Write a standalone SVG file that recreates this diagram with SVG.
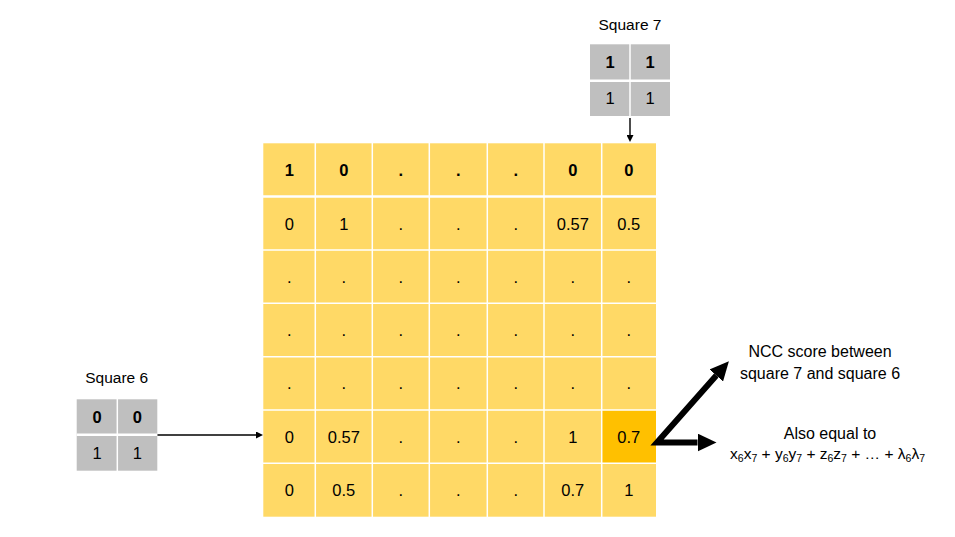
<svg xmlns="http://www.w3.org/2000/svg" width="955" height="537" viewBox="0 0 955 537">
  <style>
    text { font-family: "Liberation Sans", Arial, sans-serif; fill: #000; }
    .c { font-size: 16.5px; text-anchor: middle; }
    .b { font-weight: bold; }
    .lbl { font-size: 15.5px; text-anchor: middle; }
    .note { font-size: 16px; text-anchor: middle; }
    .f { font-size: 15.5px; text-anchor: middle; }
    .sub { font-size: 10.5px; }
    .wl { stroke: #FFFFFF; stroke-width: 1.5; }
    .wh { stroke: #FFFFFF; stroke-width: 2.6; }
    .thin { stroke: #000; stroke-width: 1.4; fill: none; }
    .thick { stroke: #000; stroke-width: 6; fill: none; stroke-linejoin: miter; }
  </style>
  <defs>
    <marker id="ah-thin" markerUnits="userSpaceOnUse" markerWidth="7" markerHeight="7" viewBox="0 0 7 7" refX="0" refY="3.5" orient="auto">
      <path d="M0,0 L7,3.5 L0,7 z" fill="#000"/>
    </marker>
    <marker id="ah-thick" markerUnits="userSpaceOnUse" markerWidth="19" markerHeight="18" viewBox="0 0 19 18" refX="0" refY="9" orient="auto-start-reverse">
      <path d="M0,0 L19,9 L0,18 z" fill="#000"/>
    </marker>
  </defs>
  <rect width="955" height="537" fill="#FFFFFF"/>

  <g id="matrix">
    <rect x="263.3" y="143.3" width="392.7" height="373.4" fill="#FFD966"/>
    <rect x="601.7" y="410" width="54.3" height="53.3" fill="#FFC000"/>
    <line class="wl" x1="315.3" y1="143" x2="315.3" y2="517"/>
    <line class="wl" x1="372.3" y1="143" x2="372.3" y2="517"/>
    <line class="wl" x1="429.3" y1="143" x2="429.3" y2="517"/>
    <line class="wl" x1="487.3" y1="143" x2="487.3" y2="517"/>
    <line class="wl" x1="544" y1="143" x2="544" y2="517"/>
    <line class="wl" x1="601.7" y1="143" x2="601.7" y2="517"/>
    <line class="wh" x1="263" y1="196.5" x2="656" y2="196.5"/>
    <line class="wl" x1="263" y1="250" x2="656" y2="250"/>
    <line class="wl" x1="263" y1="303.3" x2="656" y2="303.3"/>
    <line class="wl" x1="263" y1="356.7" x2="656" y2="356.7"/>
    <line class="wl" x1="263" y1="410" x2="656" y2="410"/>
    <line class="wl" x1="263" y1="463.3" x2="656" y2="463.3"/>

    <g class="c b">
      <text x="289.3" y="175.5">1</text>
      <text x="343.8" y="175.5">0</text>
      <text x="400.8" y="175.5">.</text>
      <text x="458.3" y="175.5">.</text>
      <text x="515.7" y="175.5">.</text>
      <text x="572.8" y="175.5">0</text>
      <text x="628.8" y="175.5">0</text>
    </g>
    <g class="c">
      <text x="289.3" y="229.5">0</text>
      <text x="343.8" y="229.5">1</text>
      <text x="400.8" y="229.5">.</text>
      <text x="458.3" y="229.5">.</text>
      <text x="515.7" y="229.5">.</text>
      <text x="572.8" y="229.5">0.57</text>
      <text x="628.8" y="229.5">0.5</text>

      <text x="289.3" y="282.7">.</text>
      <text x="343.8" y="282.7">.</text>
      <text x="400.8" y="282.7">.</text>
      <text x="458.3" y="282.7">.</text>
      <text x="515.7" y="282.7">.</text>
      <text x="572.8" y="282.7">.</text>
      <text x="628.8" y="282.7">.</text>

      <text x="289.3" y="336">.</text>
      <text x="343.8" y="336">.</text>
      <text x="400.8" y="336">.</text>
      <text x="458.3" y="336">.</text>
      <text x="515.7" y="336">.</text>
      <text x="572.8" y="336">.</text>
      <text x="628.8" y="336">.</text>

      <text x="289.3" y="389.3">.</text>
      <text x="343.8" y="389.3">.</text>
      <text x="400.8" y="389.3">.</text>
      <text x="458.3" y="389.3">.</text>
      <text x="515.7" y="389.3">.</text>
      <text x="572.8" y="389.3">.</text>
      <text x="628.8" y="389.3">.</text>

      <text x="289.3" y="442.7">0</text>
      <text x="343.8" y="442.7">0.57</text>
      <text x="400.8" y="442.7">.</text>
      <text x="458.3" y="442.7">.</text>
      <text x="515.7" y="442.7">.</text>
      <text x="572.8" y="442.7">1</text>
      <text x="628.8" y="442.7">0.7</text>

      <text x="289.3" y="496">0</text>
      <text x="343.8" y="496">0.5</text>
      <text x="400.8" y="496">.</text>
      <text x="458.3" y="496">.</text>
      <text x="515.7" y="496">.</text>
      <text x="572.8" y="496">0.7</text>
      <text x="628.8" y="496">1</text>
    </g>
  </g>

  <g id="square7">
    <text class="lbl" x="630" y="29.5">Square 7</text>
    <rect x="590" y="44.3" width="80" height="71.7" fill="#BFBFBF"/>
    <line class="wl" x1="630" y1="44" x2="630" y2="116"/>
    <line class="wh" x1="590" y1="80.8" x2="670" y2="80.8"/>
    <text class="c b" x="610" y="68.3">1</text>
    <text class="c b" x="650" y="68.3">1</text>
    <text class="c" x="610" y="103.5">1</text>
    <text class="c" x="650" y="103.5">1</text>
  </g>

  <g id="square6">
    <text class="lbl" x="116.7" y="383.3">Square 6</text>
    <rect x="76.7" y="399.3" width="80.6" height="71.4" fill="#BFBFBF"/>
    <line class="wl" x1="117.3" y1="399" x2="117.3" y2="471"/>
    <line class="wh" x1="76.7" y1="434.7" x2="157.3" y2="434.7"/>
    <text class="c b" x="97" y="423.3">0</text>
    <text class="c b" x="137.3" y="423.3">0</text>
    <text class="c" x="97" y="459">1</text>
    <text class="c" x="137.3" y="459">1</text>
  </g>

  <g id="ncc-label">
    <text class="note" x="820" y="356.7">NCC score between</text>
    <text class="note" x="820" y="379.3">square 7 and square 6</text>
  </g>

  <g id="formula-label">
    <text class="note" x="830" y="439">Also equal to</text>
    <text class="f" x="827.5" y="459.3">x<tspan class="sub" dy="3">6</tspan><tspan dy="-3">x</tspan><tspan class="sub" dy="3">7</tspan><tspan dy="-3"> + y</tspan><tspan class="sub" dy="3">6</tspan><tspan dy="-3">y</tspan><tspan class="sub" dy="3">7</tspan><tspan dy="-3"> + z</tspan><tspan class="sub" dy="3">6</tspan><tspan dy="-3">z</tspan><tspan class="sub" dy="3">7</tspan><tspan dy="-3"> + … + λ</tspan><tspan class="sub" dy="3">6</tspan><tspan dy="-3">λ</tspan><tspan class="sub" dy="3">7</tspan></text>
  </g>

  <g id="connectors">
    <line class="thin" x1="630" y1="118" x2="630" y2="135" marker-end="url(#ah-thin)"/>
    <line class="thin" x1="157.5" y1="435" x2="256" y2="435" marker-end="url(#ah-thin)"/>
    <polyline class="thick" points="716.3,375.5 657,442.5 697.5,442.5" marker-start="url(#ah-thick)" marker-end="url(#ah-thick)"/>
  </g>
</svg>
